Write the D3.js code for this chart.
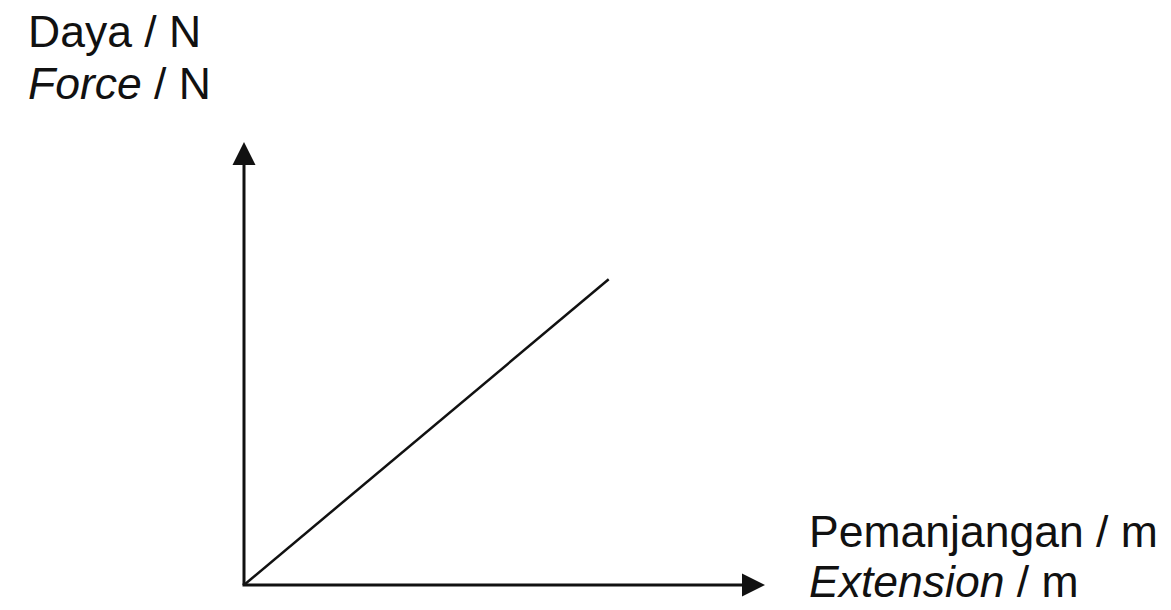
<!DOCTYPE html>
<html>
<head>
<meta charset="utf-8">
<script src="https://cdn.jsdelivr.net/npm/d3@7"></script>
<style>
  html, body { margin: 0; padding: 0; background: #fff; }
  svg { display: block; }
  text { font-family: "Liberation Sans", Arial, sans-serif; fill: #111; }
</style>
</head>
<body>
<svg id="chart" width="1171" height="610"></svg>
<script>
// Data (arbitrary units, no ticks shown in the original)
const extension = [0, 7.0];
const force = [0, 6.9];
const xDomain = [0, 10];
const yDomain = [0, 10];
const yLabelLines = [["Daya", " / N", false], ["Force", " / N", true]];
const xLabelLines = [["Pemanjangan", " / m", false], ["Extension", " / m", true]];

const W = 1171, H = 610;
const svg = d3.select("#chart");
const x = d3.scaleLinear().domain(xDomain).range([244, 765]);
const y = d3.scaleLinear().domain(yDomain).range([585, 142]);

const ink = "#111";
const head = 23, halfW = 11.5;

// Y axis
svg.append("line")
  .attr("x1", x(0)).attr("y1", y(0))
  .attr("x2", x(0)).attr("y2", y(yDomain[1]) + head - 2)
  .attr("stroke", ink).attr("stroke-width", 3);
svg.append("path")
  .attr("d", `M${x(0)},${y(yDomain[1])} L${x(0) - halfW},${y(yDomain[1]) + head} L${x(0) + halfW},${y(yDomain[1]) + head} Z`)
  .attr("fill", ink);

// X axis
svg.append("line")
  .attr("x1", x(0) - 1.5).attr("y1", y(0))
  .attr("x2", x(xDomain[1]) - head + 2).attr("y2", y(0))
  .attr("stroke", ink).attr("stroke-width", 3);
svg.append("path")
  .attr("d", `M${x(xDomain[1])},${y(0)} L${x(xDomain[1]) - head},${y(0) - halfW} L${x(xDomain[1]) - head},${y(0) + halfW} Z`)
  .attr("fill", ink);

// Data line
const pts = extension.map((e, i) => [e, force[i]]);
svg.append("path")
  .datum(pts)
  .attr("d", d3.line().x(d => x(d[0])).y(d => y(d[1])))
  .attr("fill", "none").attr("stroke", ink).attr("stroke-width", 2.5);

// Labels
function label(lines, x0, y0, dy) {
  lines.forEach((ln, i) => {
    const t = svg.append("text")
      .attr("x", x0).attr("y", y0 + i * dy)
      .attr("font-size", 44.5);
    t.append("tspan").text(ln[0]).attr("font-style", ln[2] ? "italic" : "normal");
    t.append("tspan").text(ln[1]);
  });
}
label(yLabelLines, 28, 47, 52);
label(xLabelLines, 809, 547, 50);
</script>
</body>
</html>
